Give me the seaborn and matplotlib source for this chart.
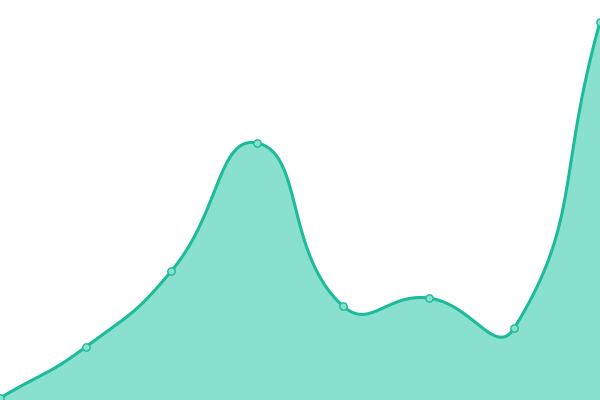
import numpy as np
import pandas as pd
import matplotlib
matplotlib.use("Agg")
import matplotlib.pyplot as plt
import seaborn as sns

# Data
categories = [0, 1, 2, 3, 4, 5, 6, 7]
values = [2, 53, 129, 257, 94, 102, 72, 378]

LINE = "#1dbb99"
FILL = "#89e0cf"
SMOOTH = 0.5

sns.set_theme(style="white")

# pixel scale factors (x units -> px, y units -> px)
SX = 600 / 7.0
SY = 1.0

def smooth_curve(xs, ys, smooth=SMOOTH, n=60):
    P = np.column_stack([np.asarray(xs, float) * SX, np.asarray(ys, float) * SY])
    N = len(P)
    cps_in = [None] * N
    cps_out = [None] * N
    for i in range(N):
        cur = P[i]
        prev = P[i - 1] if i > 0 else cur
        nxt = P[i + 1] if i < N - 1 else cur
        v = nxt - prev
        dprev = np.linalg.norm(cur - prev)
        dnext = np.linalg.norm(nxt - cur)
        tot = dprev + dnext
        r = dnext / tot if tot > 0 else 0.5
        cps_in[i] = cur - v * smooth * (1 - r)
        cps_out[i] = cur + v * smooth * r
    out = []
    for i in range(N - 1):
        p0, c1, c2, p3 = P[i], cps_out[i], cps_in[i + 1], P[i + 1]
        t = np.linspace(0, 1, n, endpoint=(i == N - 2))[:, None]
        seg = ((1 - t) ** 3) * p0 + 3 * ((1 - t) ** 2) * t * c1 + 3 * (1 - t) * t**2 * c2 + t**3 * p3
        out.append(seg)
    C = np.vstack(out)
    C[:, 0] /= SX
    C[:, 1] /= SY
    return C

curve = smooth_curve(categories, values)
cdf = pd.DataFrame({"x": curve[:, 0], "y": curve[:, 1]})
pdf = pd.DataFrame({"x": categories, "y": values})

fig = plt.figure(figsize=(6, 4), dpi=100)
ax = fig.add_axes([0, 0, 1, 1])
ax.fill_between(cdf["x"], 0, cdf["y"], color=FILL, linewidth=0)
sns.lineplot(data=cdf, x="x", y="y", ax=ax, color=LINE, linewidth=2.2, sort=False)
sns.scatterplot(data=pdf, x="x", y="y", ax=ax, color=FILL, edgecolor=LINE,
                s=28, linewidth=1.0, zorder=5, clip_on=False)
ax.set_xlim(0, 7)
ax.set_ylim(0, 400)
ax.set_axis_off()
fig.savefig("out.png", dpi=100)
